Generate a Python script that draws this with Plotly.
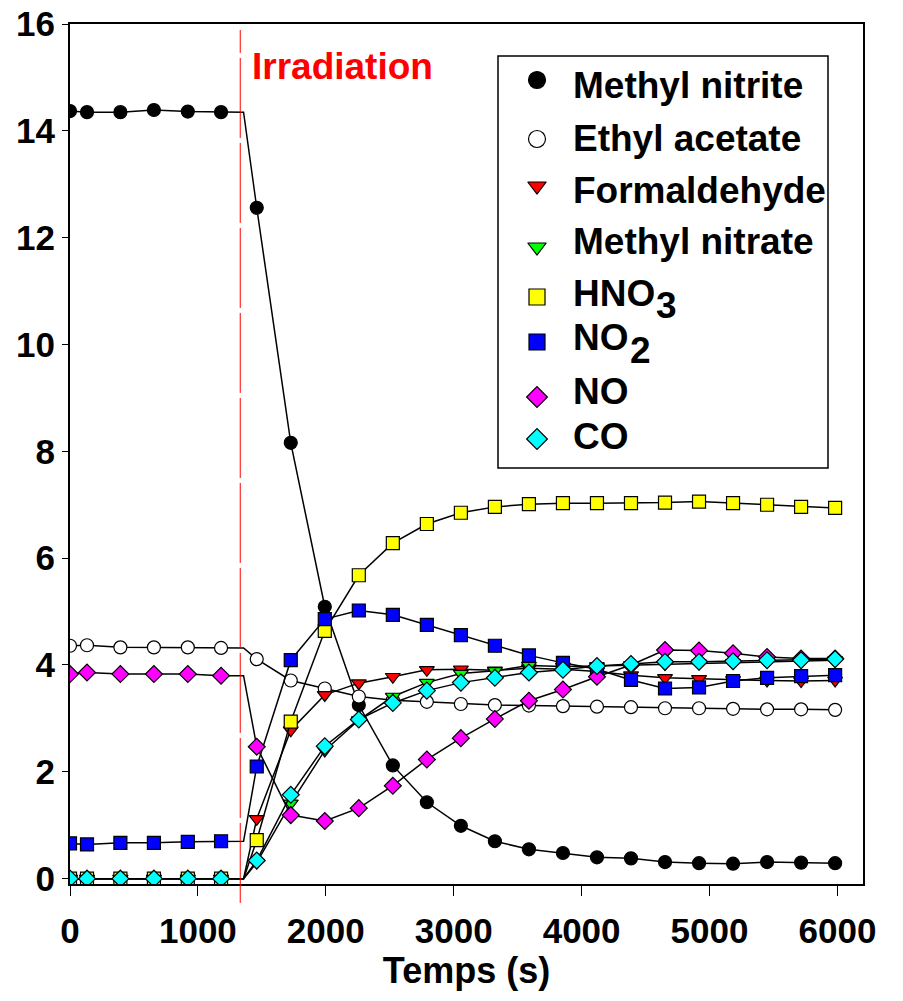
import plotly.graph_objects as go

# Sampling times (s); index 6 is the switch-on point of the lamps (no marker there)
temps = [0, 133, 394, 656, 921, 1181, 1357,
         1460, 1726, 1992, 2258, 2524, 2790, 3056, 3322, 3588, 3854,
         4120, 4386, 4652, 4918, 5184, 5450, 5716, 5982]
irradiation_start_index = 6
irradiation_time = 1331

methyl_nitrite = [14.37, 14.35, 14.35, 14.39, 14.36, 14.35, 14.35,
                  12.56, 8.16, 5.09, 3.25, 2.12, 1.43, 0.99, 0.70, 0.55, 0.48,
                  0.40, 0.38, 0.31, 0.29, 0.28, 0.31, 0.30, 0.29]
ethyl_acetate = [4.36, 4.37, 4.33, 4.33, 4.33, 4.32, 4.32,
                 4.11, 3.71, 3.56, 3.41, 3.34, 3.31, 3.27, 3.25, 3.24, 3.23,
                 3.22, 3.21, 3.19, 3.19, 3.18, 3.17, 3.17, 3.16]
formaldehyde = [0, 0, 0, 0, 0, 0, 0,
                1.12, 2.78, 3.44, 3.66, 3.78, 3.91, 3.92, 3.90, 3.94, 3.92,
                3.88, 3.81, 3.76, 3.74, 3.72, 3.71, 3.70, 3.71]
methyl_nitrate = [0, 0, 0, 0, 0, 0, 0,
                  0.30, 1.41, 2.40, 2.97, 3.41, 3.67, 3.84, 3.89, 3.99, 3.97,
                  3.98, 4.00, 4.02, 4.03, 4.04, 4.06, 4.07, 4.09]
hno3 = [0, 0, 0, 0, 0, 0, 0,
        0.72, 2.94, 4.64, 5.68, 6.28, 6.64, 6.85, 6.96, 7.01, 7.03,
        7.03, 7.03, 7.04, 7.06, 7.03, 7.00, 6.96, 6.94]
no2 = [0.66, 0.64, 0.67, 0.67, 0.69, 0.70, 0.70,
       2.10, 4.09, 4.86, 5.02, 4.94, 4.75, 4.56, 4.36, 4.18, 4.04,
       3.92, 3.72, 3.56, 3.58, 3.70, 3.76, 3.79, 3.81]
no = [3.83, 3.86, 3.83, 3.83, 3.83, 3.80, 3.80,
      2.47, 1.19, 1.08, 1.32, 1.74, 2.23, 2.63, 2.99, 3.33, 3.54,
      3.78, 4.00, 4.28, 4.27, 4.22, 4.15, 4.12, 4.12]
co = [0, 0, 0, 0, 0, 0, 0,
      0.34, 1.57, 2.48, 2.98, 3.29, 3.52, 3.67, 3.76, 3.86, 3.91,
      3.98, 4.02, 4.06, 4.06, 4.07, 4.09, 4.09, 4.11]

# legend labels: main text and the chemical-formula index drawn after it
legend_text = ["Methyl nitrite", "Ethyl acetate", "Formaldehyde", "Methyl nitrate",
               "HNO", "NO", "NO", "CO"]
legend_index = ["", "", "", "", "3", "2", "", ""]

x_ticks = [0, 1000, 2000, 3000, 4000, 5000, 6000]
y_ticks = [0, 2, 4, 6, 8, 10, 12, 14, 16]

FONT = "Liberation Sans"

# plot-area geometry in pixels (for the hand-built legend box)
W, H = 903, 1001
L, R, T, B = 70, 40, 24, 117
PW, PH = W - L - R, H - T - B


def px_x(p):
    return (p - L) / PW


def px_y(p):
    return (H - B - p) / PH


styles = [
    ("circle", "black", 13, 17),
    ("circle", "white", 13, 17),
    ("triangle-down", "#ff0000", 13, 16),
    ("triangle-down", "#00ff00", 13, 16),
    ("square", "#ffff00", 13, 16),
    ("square", "#0000ff", 13, 16),
    ("diamond", "#ff00ff", 13, 16),
    ("diamond", "#00ffff", 13, 16),
]
series = [methyl_nitrite, ethyl_acetate, formaldehyde, methyl_nitrate,
          hno3, no2, no, co]

fig = go.Figure()
for values, (symbol, color, size, _) in zip(series, styles):
    # connecting line through every sample
    fig.add_trace(go.Scatter(
        x=temps, y=values, mode="lines",
        line=dict(color="black", width=1.5),
        showlegend=False, hoverinfo="skip",
    ))
    # markers on the measured samples only
    mx = [t for j, t in enumerate(temps) if j != irradiation_start_index]
    my = [v for j, v in enumerate(values) if j != irradiation_start_index]
    fig.add_trace(go.Scatter(
        x=mx, y=my, mode="markers", showlegend=False,
        marker=dict(symbol=symbol, size=size, color=color,
                    line=dict(color="black", width=1.2)),
    ))

# legend: box, symbols (on an overlay axis spanning the plot area) and labels
fig.add_shape(type="rect", xref="paper", yref="paper",
              x0=px_x(498), x1=px_x(828), y0=px_y(468), y1=px_y(56),
              line=dict(color="black", width=1.5), fillcolor="white", layer="below")
marker_rows = [80, 139, 186, 247, 297, 342, 397, 439]
text_rows = [86, 138, 190, 241, 293, 337, 391, 436]
for i, (symbol, color, _, lsize) in enumerate(styles):
    fig.add_trace(go.Scatter(
        x=[px_x(537)], y=[px_y(marker_rows[i])], xaxis="x2", yaxis="y2",
        mode="markers", showlegend=False, hoverinfo="skip",
        marker=dict(symbol=symbol, size=lsize, color=color,
                    line=dict(color="black", width=1.2)),
    ))
    fig.add_annotation(x=px_x(571), y=px_y(text_rows[i]), xref="paper", yref="paper",
                       text=legend_text[i], showarrow=False,
                       xanchor="left", yanchor="middle",
                       font=dict(family=FONT, size=37, color="black", weight="bold"))
    if legend_index[i]:
        main_w = {"HNO": 82, "NO": 56}[legend_text[i]]
        fig.add_annotation(x=px_x(571 + main_w + 1), y=px_y(text_rows[i] + 13),
                           xref="paper", yref="paper",
                           text=legend_index[i], showarrow=False,
                           xanchor="left", yanchor="middle",
                           font=dict(family=FONT, size=37, color="black", weight="bold"))

# start of irradiation
fig.add_shape(type="line", xref="x", yref="paper",
              x0=irradiation_time, x1=irradiation_time, y0=-0.022, y1=0.993,
              line=dict(color="#ff0000", width=1, dash="80px,5px"))
fig.add_annotation(x=1410, y=15.2, xref="x", yref="y", text="Irradiation",
                   showarrow=False, xanchor="left", yanchor="middle",
                   font=dict(family=FONT, size=37, color="#ff0000", weight="bold"))

axis_common = dict(
    showline=True, linecolor="black", linewidth=2, mirror=True,
    showgrid=False, zeroline=False, ticks="outside", tickcolor="black",
    automargin=False,
    tickfont=dict(family=FONT, size=35, color="black", weight="bold"),
)

fig.update_layout(
    width=W, height=H,
    margin=dict(l=L, r=R, t=T, b=B),
    plot_bgcolor="white", paper_bgcolor="white",
    font=dict(family=FONT, color="black"),
    showlegend=False,
    xaxis2=dict(overlaying="x", range=[0, 1], visible=False, fixedrange=True),
    yaxis2=dict(overlaying="y", range=[0, 1], visible=False, fixedrange=True),
)
fig.layout.xaxis.update(range=[0, 6200], tickvals=x_ticks, ticklen=10, tickwidth=1,
                        ticklabelstandoff=5,
                        title=dict(text="Temps (s)", standoff=8,
                                   font=dict(family=FONT, size=36, color="black",
                                             weight="bold")),
                        **axis_common)
fig.layout.yaxis.update(range=[-0.1, 16], tickvals=y_ticks, ticklen=6, tickwidth=1,
                        **axis_common)

fig.write_html("out.html")
